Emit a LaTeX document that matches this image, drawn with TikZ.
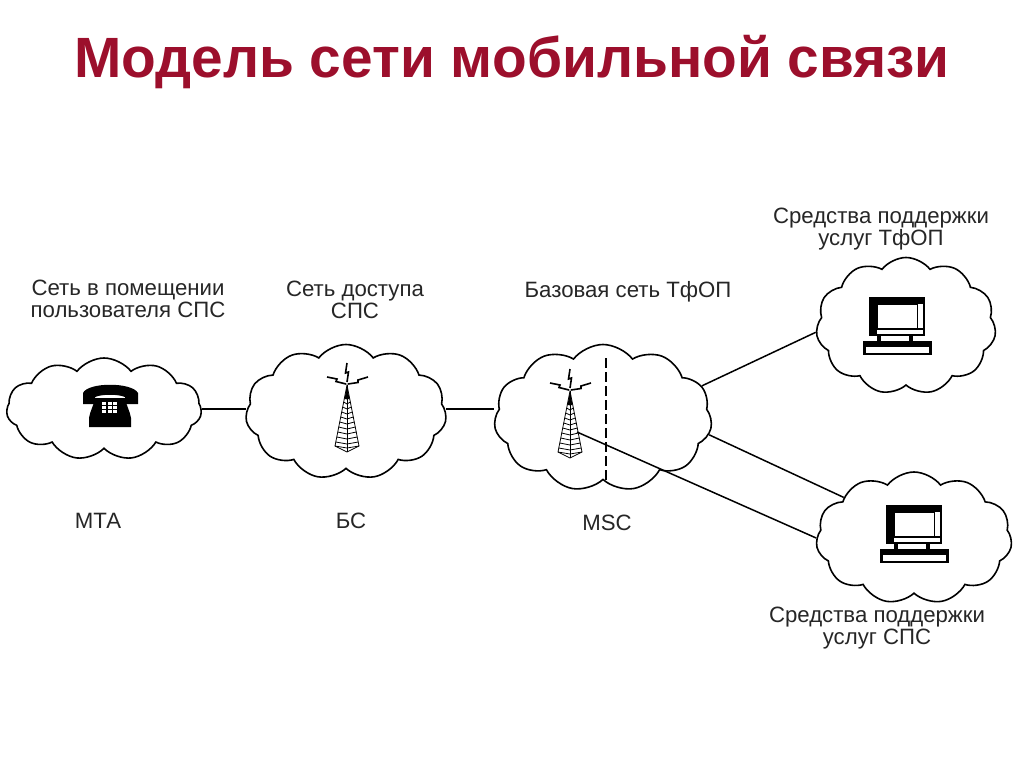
\documentclass[tikz,border=0pt]{standalone}
\usepackage{fontspec}
\setmainfont{Liberation Sans}
\usetikzlibrary{shapes.symbols}
\definecolor{titlered}{HTML}{9C0F2C}
\definecolor{labelgray}{HTML}{262626}
\tikzset{
  netcloud/.style={cloud,draw,line width=1.6pt,cloud puffs=#1,cloud puff arc=105,
    cloud ignores aspect,inner sep=0pt},
  label/.style={text=labelgray,font=\fontsize{22.2}{22}\selectfont,align=center},
  link/.style={line width=1.5pt},
  pics/mast/.style={code={
    % zigzags on top
    \draw [line width=1.6pt] (0,-22) -- (-1.5,-12) -- (1.5,-13) -- (0,-3);
    \draw [line width=1.6pt] (-20,-8) -- (-10,-6) -- (-11,-3.5) -- (-1,-1);
    \draw [line width=1.6pt] (21,-8) -- (11,-5) -- (11,-2.5) -- (1,-1);
    \fill (0,0) -- (2.5,14) -- (-2.5,14) -- cycle;
    \draw [line width=.8pt] (-12,61) -- (0,0) -- (12,61) -- (0,67) -- cycle;
    \draw [line width=.8pt] (0,0) -- (0,67);
    \foreach \rung in {12,17,22,27,32,37,42,47,52,57,61} {
      \pgfmathsetmacro{\half}{12*\rung/61}
      \draw [line width=.8pt] (-\half,\rung) -- (0,\rung+2) -- (\half,\rung);
    }
  }},
  pics/desktop/.style={code={
    \draw [line width=2.6pt] (1,1) rectangle (55,38);
    \fill (1,1) rectangle (55,7);
    \fill (1,1) rectangle (8,38);
    \fill (48,1) rectangle (55,5);
    \draw [line width=1pt] (8.5,7.5) rectangle (48,31);
    \fill (2,31) rectangle (55,33);
    \fill (-6,44) rectangle (63,58);
    \fill (8,38) rectangle (12,44);
    \fill (40,38) rectangle (44,44);
    \fill [white] (-3,50) rectangle (60,56);
  }},
  pics/phone/.style={code={
    \fill (-27,19) -- (-27,8) .. controls (-22,-3) and (22,-3) .. (28,8) -- (28,19)
      -- (15,19) -- (15,12) .. controls (8,9) and (-8,9) .. (-15,12) -- (-15,19) -- cycle;
    \fill (-21,42) -- (-21,33) .. controls (-20,26) and (-16,20) .. (-15,13)
      -- (15,13) .. controls (16,20) and (20,26) .. (21,33) -- (21,42) -- cycle;
    \foreach \col in {-8,-2.5,3} {
      \foreach \row in {17,21,25} {
        \fill [white] (\col,\row) rectangle +(4,3);
      }
    }
  }}
}
\begin{document}
\begin{tikzpicture}[x=1pt,y=-1pt]
\useasboundingbox (0,0) rectangle (1024,767);

\node [text=titlered,font=\fontsize{56.8}{60}\selectfont\bfseries] (title) at (512,62) {Модель сети мобильной связи};

% clouds
\node [netcloud=11,minimum width=195pt,minimum height=102pt] (mta) at (104,409) {};
\node [netcloud=11,minimum width=201pt,minimum height=135pt] (bs) at (346,412) {};
\node [netcloud=11,minimum width=218pt,minimum height=147pt] (msc) at (603,418) {};
\node [netcloud=11,minimum width=180pt,minimum height=137pt] (pstn) at (906,326) {};
\node [netcloud=11,minimum width=196pt,minimum height=132pt] (sps) at (914,538) {};

% icons
\pic at (110,385) {phone};
\pic at (347,385) {mast};
\pic at (570,391) {mast};
\pic at (869,297) {desktop};
\pic at (886,505) {desktop};

\coordinate (mast) at (577,432);

% links
\draw [link] (mta.east) -- (bs.west |- mta.east);
\draw [link] (bs.east |- mta.east) -- (msc.west |- mta.east);
\draw [link] (msc.18) -- (pstn.184);
\draw [link] (msc.-9) -- (sps.150);
\draw [link] (mast) -- (sps.180);
\coordinate (splittop) at (606,358);
\coordinate (splitbottom) at (606,482);
\draw [line width=2.8pt,dash pattern=on 10pt off 4pt] (splittop) -- (splitbottom);

% labels
\node [label] (mtaup) at (128,299) {Сеть в помещении\\пользователя СПС};
\node [label] (bsup) at (355,300) {Сеть доступа\\СПС};
\node [label] (mscup) at (628,292) {Базовая сеть ТфОП};
\node [label] (pstnup) at (881,229) {Средства поддержки\\услуг ТфОП};
\node [label] (spsdown) at (877,628) {Средства поддержки\\услуг СПС};
\node [label] (mtadown) at (98,521) {МТА};
\node [label] (bsdown) at (351,521) {БС};
\node [label] (mscdown) at (607,523) {MSC};
\end{tikzpicture}
\end{document}
